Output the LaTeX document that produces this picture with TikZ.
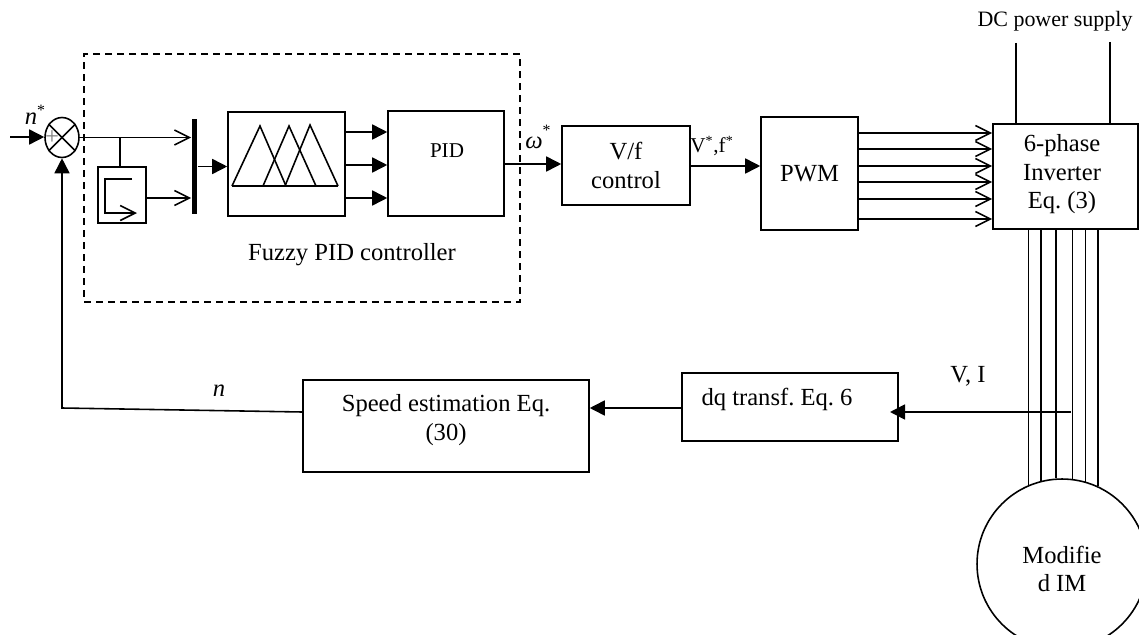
\documentclass[tikz,border=0pt]{standalone}
\usepackage{fontspec}
\setmainfont{Liberation Serif}
\usetikzlibrary{arrows.meta, shapes.geometric}
\tikzset{
    blockbox/.style = {draw, rectangle, inner sep = 0pt, align = center},
    plaintext/.style = {inner sep = 0pt, align = center},
    solidtip/.style = {-{Triangle[length = 0.3cm, width = 0.3cm]}},
    barbtip/.style = {-{Straight Barb[length = 0.3cm, width = 0.3cm]}}
}
\begin{document}
\begin{tikzpicture}[x = 0.02cm, y = -0.02cm, line width = 0.9pt, font = \fontsize{14}{16.2}\selectfont\frenchspacing]
        \clip (0, 0) rectangle (1139, 635);

        \node[draw, dashed, dash pattern = on 0.14cm off 0.1cm, minimum width = 8.72cm, minimum height = 4.96cm] (ctrlbox) at (302, 178) {};
        \node[plaintext] (ctrltext) at (352, 255) {Fuzzy PID controller};

        \node[draw, ellipse, inner sep = 0pt, minimum width = 0.68cm, minimum height = 0.8cm] (sum) at (62, 137.5) {};
        \node[plaintext, text = gray] (plus) at (52, 137.5) {+};
        \node[plaintext] (nref) at (35, 115) {\textit{n}\raisebox{0.8ex}{\small *}};
        \node[blockbox, minimum width = 0.96cm, minimum height = 1.12cm] (ramp) at (122, 195) {};
        \node[fill, inner sep = 0pt, minimum width = 0.1cm, minimum height = 1.92cm] (bar) at (194.5, 166.5) {};
        \node[blockbox, minimum width = 2.34cm, minimum height = 2.08cm] (fuzzy) at (286.5, 164) {};
        \node[blockbox, minimum width = 2.32cm, minimum height = 2.1cm] (pid) at (446, 163.5) {};
        \node[plaintext, font = \fontsize{12}{14}\selectfont] (pidtext) at (447, 151) {PID};
        \node[blockbox, minimum width = 2.56cm, minimum height = 1.58cm] (vf) at (626, 165.5) {V/f\\control};
        \node[blockbox, minimum width = 1.94cm, minimum height = 2.26cm] (pwm) at (809.5, 173.5) {PWM};
        \node[blockbox, minimum width = 2.9cm, minimum height = 2.1cm] (inv) at (1065.5, 176.5) {};
        \node[plaintext] (invtext) at (1062, 174.5) {6-phase\\Inverter\\Eq. (3)};
        \node[blockbox, minimum width = 4.32cm, minimum height = 1.36cm] (dq) at (790, 407) {};
        \node[plaintext] (dqtext) at (777, 399) {dq transf. Eq. 6};
        \node[blockbox, minimum width = 5.72cm, minimum height = 1.84cm] (speed) at (446, 426) {};
        \node[plaintext] (speedtext) at (446, 420) {Speed estimation Eq.\\(30)};
        \node[draw, circle, inner sep = 0pt, minimum size = 3.4cm] (motor) at (1062, 564) {};
        \node[plaintext] (motortext) at (1062, 569) {Modifie\\d IM};

        \node[plaintext, font = \fontsize{12.5}{14}\selectfont] (dctext) at (1055, 21) {DC power supply};
        \node[plaintext] (wref) at (538, 137) {\textit{ω}\raisebox{1.1ex}{\small *}};
        \node[plaintext, font = \fontsize{12}{14}\selectfont] (vfref) at (712, 146) {V\textsuperscript{*},f\textsuperscript{*}};
        \node[plaintext] (vitext) at (968, 376) {V, I};
        \node[plaintext] (ntext) at (219, 391) {\textit{n}};

        \coordinate (nin) at (10, 137);
        \coordinate (branch) at (120, 138);
        \coordinate (dcleft) at (1016, 43);
        \coordinate (dcright) at (1110, 42);
        \coordinate (tap) at (1071, 412);
        \coordinate (dqin) at (890, 412);

        \draw (sum.45) -- (sum.225);
        \draw (sum.135) -- (sum.315);
        \draw[solidtip] (nin) -- (sum.west |- nin);
        \draw[barbtip] (sum.east) -- (bar.west |- sum.east);
        \draw (branch) -- (branch |- ramp.north);
        \draw[barbtip] (ramp.east |- 0, 198) -- (bar.west |- 0, 198);
        \draw[barbtip] (132, 179) -- (105, 179) -- (105, 213) -- (137, 213);
        \draw[solidtip] (bar.east) -- (bar.east -| fuzzy.west);

        \draw (232, 186) -- (260, 126) -- (286, 186);
        \draw (263, 186) -- (289, 126) -- (316, 186);
        \draw (285, 186) -- (310, 125) -- (338, 186);
        \draw[line width = 1.1pt] (232, 186) -- (338, 186);

        \draw[solidtip] (fuzzy.east |- 0, 132) -- (pid.west |- 0, 132);
        \draw[solidtip] (fuzzy.east |- 0, 165) -- (pid.west |- 0, 165);
        \draw[solidtip] (fuzzy.east |- 0, 198) -- (pid.west |- 0, 198);
        \draw[solidtip] (pid.east |- 0, 164) -- (vf.west |- 0, 164);
        \draw[solidtip] (vf.east |- 0, 166) -- (pwm.west |- 0, 166);

        \draw[barbtip] (pwm.east |- 0, 133) -- (inv.west |- 0, 133);
        \draw[barbtip] (pwm.east |- 0, 149) -- (inv.west |- 0, 149);
        \draw[barbtip] (pwm.east |- 0, 166) -- (inv.west |- 0, 166);
        \draw[barbtip] (pwm.east |- 0, 182) -- (inv.west |- 0, 182);
        \draw[barbtip] (pwm.east |- 0, 199) -- (inv.west |- 0, 199);
        \draw[barbtip] (pwm.east |- 0, 219) -- (inv.west |- 0, 219);

        \draw (dcleft) -- (dcleft |- inv.north);
        \draw (dcright) -- (dcright |- inv.north);

        \draw (inv.south -| motor.113.6) -- (motor.113.6);
        \draw (inv.south -| motor.104.3) -- (motor.104.3);
        \draw (inv.south -| motor.94) -- (motor.94);
        \draw (inv.south -| motor.83.9) -- (motor.83.9);
        \draw (inv.south -| motor.74.3) -- (motor.74.3);
        \draw (inv.south -| motor.65.7) -- (motor.65.7);

        \draw[solidtip] (tap) -- (dqin);
        \draw[solidtip] (dq.west |- 0, 408) -- (speed.east |- 0, 408);
        \draw[solidtip] (speed.west |- 0, 412) -- (sum.south |- 0, 408) -- (sum.south);
    \end{tikzpicture}
\end{document}
